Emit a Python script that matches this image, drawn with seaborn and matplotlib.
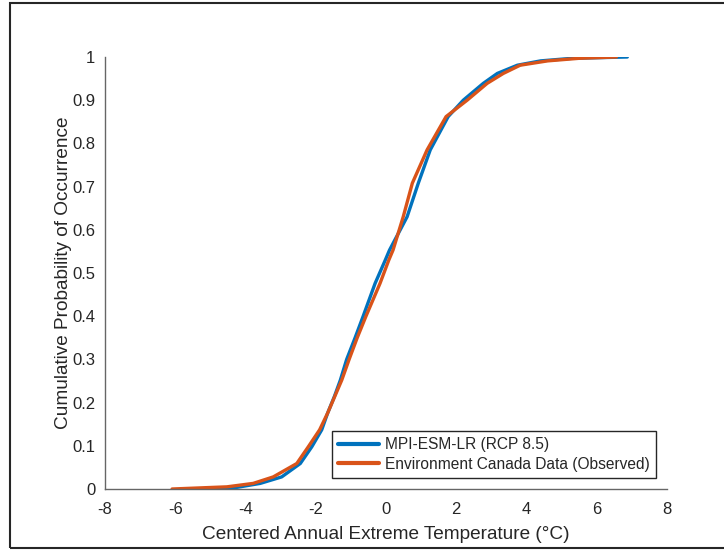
import numpy as np
import pandas as pd
import matplotlib
matplotlib.use("Agg")
import matplotlib.pyplot as plt
from matplotlib.patches import Rectangle
import seaborn as sns

# Cumulative probability levels and the temperatures read at each level
model_prob = [0.0, 0.003, 0.013, 0.028, 0.059, 0.098, 0.137, 0.176, 0.214, 0.252, 0.30, 0.35,
              0.40, 0.476, 0.53, 0.553, 0.63, 0.708, 0.785, 0.862, 0.90, 0.939, 0.962,
              0.981, 0.991, 0.997, 1.0]
model_temp = [-5.49, -4.30, -3.58, -2.97, -2.44, -2.11, -1.83, -1.66, -1.47, -1.30, -1.12, -0.88,
              -0.65, -0.31, -0.02, 0.10, 0.60, 0.92, 1.26, 1.77, 2.20, 2.77, 3.17,
              3.74, 4.40, 5.30, 6.87]

obs_prob = [0.0, 0.005, 0.013, 0.028, 0.059, 0.098, 0.137, 0.176, 0.214, 0.252, 0.30, 0.35,
            0.40, 0.476, 0.53, 0.553, 0.63, 0.708, 0.785, 0.862, 0.90, 0.939, 0.962,
            0.981, 0.991, 0.997, 1.0]
obs_temp = [-6.09, -4.53, -3.78, -3.21, -2.54, -2.21, -1.89, -1.66, -1.46, -1.26, -1.05, -0.82,
            -0.57, -0.17, 0.08, 0.20, 0.49, 0.75, 1.17, 1.71, 2.31, 2.88, 3.34,
            3.82, 4.60, 5.50, 6.56]

series_names = ["MPI-ESM-LR (RCP 8.5)", "Environment Canada Data (Observed)"]
series_colors = ["#0072BD", "#D95319"]
x_ticks = [-8, -6, -4, -2, 0, 2, 4, 6, 8]
y_ticks = [0, 0.1, 0.2, 0.3, 0.4, 0.5, 0.6, 0.7, 0.8, 0.9, 1]
y_tick_labels = ["0", "0.1", "0.2", "0.3", "0.4", "0.5", "0.6", "0.7", "0.8", "0.9", "1"]

df = pd.concat([
    pd.DataFrame({"temp": model_temp, "prob": model_prob, "series": series_names[0]}),
    pd.DataFrame({"temp": obs_temp, "prob": obs_prob, "series": series_names[1]}),
], ignore_index=True)

sns.set_theme(style="white")
plt.rcParams["font.family"] = ["Liberation Sans", "DejaVu Sans"]

fig = plt.figure(figsize=(7.24, 5.5), dpi=100)
ax = fig.add_axes([105 / 724, 61 / 550, 562 / 724, 432 / 550])

sns.lineplot(data=df, x="temp", y="prob", hue="series", hue_order=series_names,
             palette=series_colors, sort=False, estimator=None, linewidth=2.4, ax=ax)

ax.set_xlim(-8, 8)
ax.set_ylim(0, 1)
ax.set_xticks(x_ticks)
ax.set_xticklabels([str(t) for t in x_ticks])
ax.set_yticks(y_ticks)
ax.set_yticklabels(y_tick_labels)
ax.tick_params(direction="in", length=4, width=0.8, color="#404040",
               labelcolor="#262626", labelsize=12)
ax.tick_params(axis="x", pad=9)
ax.tick_params(axis="y", pad=7)
for side in ["top", "right"]:
    ax.spines[side].set_visible(False)
for side in ["left", "bottom"]:
    ax.spines[side].set_color("#666666")
    ax.spines[side].set_linewidth(1.0)

ax.set_xlabel("Centered Annual Extreme Temperature (\u00b0C)", fontsize=13.7, color="#262626", labelpad=7)
ax.set_ylabel("Cumulative Probability of Occurrence", fontsize=13.7, color="#262626", labelpad=0)

leg = ax.legend(loc="lower right", fontsize=11.2, frameon=True, fancybox=False,
                edgecolor="#262626", framealpha=1, borderaxespad=0.7,
                handlelength=2.6, handletextpad=0.4, borderpad=0.4, labelspacing=0.3)
leg.get_frame().set_linewidth(1.0)
for line in leg.get_lines():
    line.set_linewidth(3)

fig.patches.append(Rectangle((10 / 724, 2 / 550), 1.0, 545 / 550, transform=fig.transFigure,
                             fill=False, edgecolor="#262626", linewidth=1.5, clip_on=False))

fig.savefig("out.png", dpi=100, facecolor="white")
